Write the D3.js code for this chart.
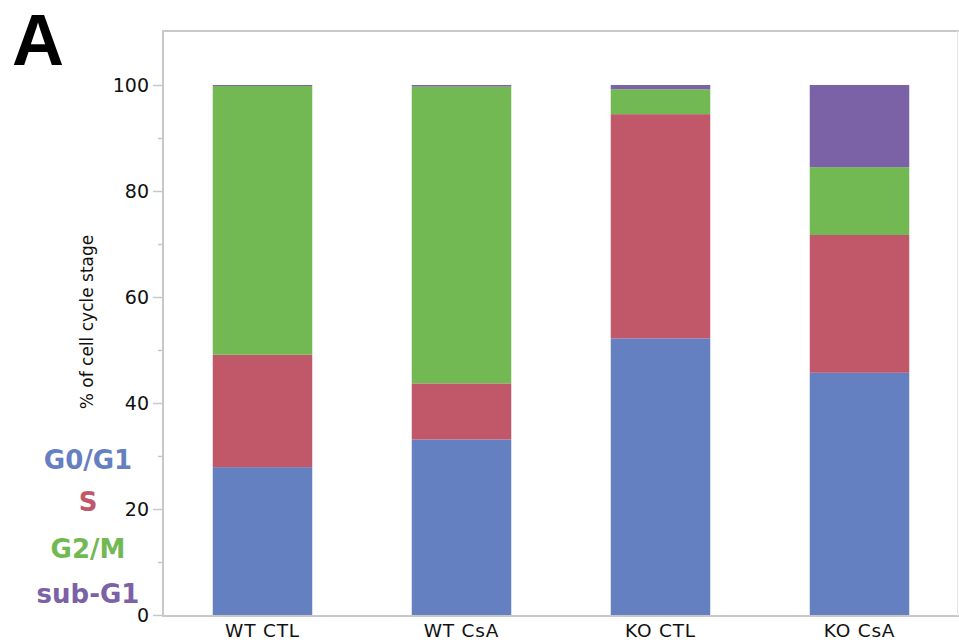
<!DOCTYPE html>
<html><head><meta charset="utf-8">
<script src="https://cdn.jsdelivr.net/npm/d3@7"></script>
<style>body{margin:0;background:#fff}svg{display:block}</style>
</head><body>
<script>
const categories = ["WT CTL","WT CsA","KO CTL","KO CsA"];
const stages = ["G0/G1","S","G2/M","sub-G1"];
const g0g1  = [27.9, 33.1, 52.2, 45.7];
const sPh   = [21.2, 10.6, 42.3, 26.0];
const g2m   = [50.7, 56.0, 4.7, 12.8];
const subG1 = [0.2, 0.3, 0.8, 15.5];
const majorTicks = [0,20,40,60,80,100];
const minorTicks = [10,30,50,70,90];
const colors = ["#6580c0","#c05869","#72b853","#7b61a5"];

const W=959,H=640;
const svg=d3.select("body").append("svg").attr("width",W).attr("height",H);

const x=d3.scaleBand().domain(categories).range([163,959]).paddingInner(0.5).paddingOuter(0.25);
const y=d3.scaleLinear().domain([0,100]).range([615,85]);

const table=categories.map((c,i)=>({cat:c,"G0/G1":g0g1[i],"S":sPh[i],"G2/M":g2m[i],"sub-G1":subG1[i]}));
const stack=d3.stack().keys(stages)(table);

svg.append("g").selectAll("g").data(stack).join("g")
  .attr("fill",(d,i)=>colors[i])
  .selectAll("rect").data(d=>d).join("rect")
  .attr("x",d=>x(d.data.cat)).attr("width",x.bandwidth())
  .attr("y",d=>y(d[1])).attr("height",d=>y(d[0])-y(d[1]));

// frame lines
const ax="#c8c8c8";
svg.append("line").attr("x1",163).attr("x2",163).attr("y1",31).attr("y2",616).attr("stroke",ax).attr("stroke-width",2);
svg.append("line").attr("x1",162).attr("x2",959).attr("y1",31).attr("y2",31).attr("stroke",ax).attr("stroke-width",2);
svg.append("line").attr("x1",162).attr("x2",959).attr("y1",616).attr("y2",616).attr("stroke",ax).attr("stroke-width",2);
svg.append("line").attr("x1",957.5).attr("x2",957.5).attr("y1",31).attr("y2",616).attr("stroke","#e6e6e6").attr("stroke-width",1);

// y axis
const yAxis=d3.axisLeft(y).tickValues(majorTicks).tickSize(10).tickPadding(4);
const gy=svg.append("g").attr("transform","translate(163,0)").call(yAxis);
gy.select(".domain").remove();
gy.selectAll(".tick line").attr("stroke",ax).attr("stroke-width",1.5);
gy.selectAll(".tick text").attr("font-family","DejaVu Sans").attr("font-size",19).attr("fill","#111");
const gym=svg.append("g").attr("transform","translate(163,0)").call(d3.axisLeft(y).tickValues(minorTicks).tickSize(5).tickFormat(""));
gym.select(".domain").remove();
gym.selectAll(".tick line").attr("stroke",ax).attr("stroke-width",1.5);

// x axis labels
const gx=svg.append("g").attr("transform","translate(0,616)").call(d3.axisBottom(x).tickSize(0).tickPadding(8));
gx.select(".domain").remove();
gx.selectAll(".tick text").attr("font-family","DejaVu Sans").attr("font-size",18.5).attr("letter-spacing","0.8px").attr("fill","#111").attr("dy","0.72em");

// y title
svg.append("text").attr("transform","translate(93,322) rotate(-90)").attr("text-anchor","middle")
  .attr("font-family","DejaVu Sans").attr("font-size",17).attr("fill","#111").text("% of cell cycle stage");

// legend
const legY=[469,511,558,603];
svg.append("g").selectAll("text").data(stages).join("text")
  .attr("x",88).attr("y",(d,i)=>legY[i]).attr("text-anchor","middle")
  .attr("font-family","DejaVu Sans").attr("font-weight","bold").attr("font-size",26)
  .attr("fill",(d,i)=>colors[i]).text(d=>d);

// panel letter
svg.append("text").attr("x",12).attr("y",65).attr("font-family","Liberation Sans").attr("font-weight","bold")
  .attr("font-size",72).attr("fill","#000").text("A");
</script>
</body></html>
